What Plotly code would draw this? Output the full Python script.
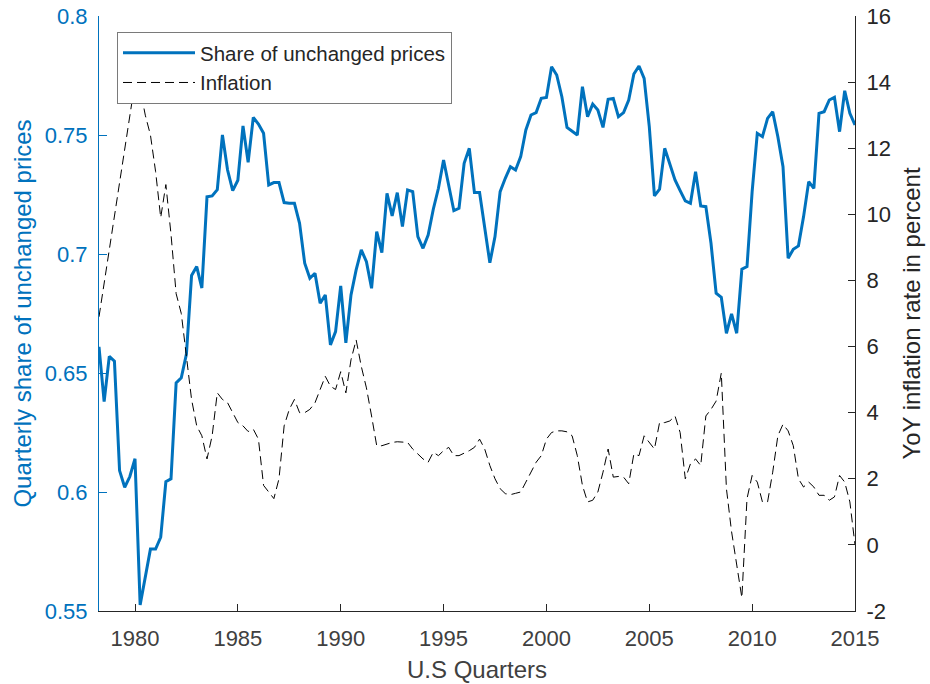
import plotly.graph_objects as go

# Quarterly observations, 1978Q2 .. 2015Q1
years = [1978.25 + 0.25 * k for k in range(148)]

share_unchanged = [
    0.661, 0.638, 0.657, 0.655, 0.609, 0.602, 0.6065, 0.614, 0.5525, 0.564,
    0.576, 0.576, 0.581, 0.6043, 0.6055, 0.6458, 0.648, 0.658, 0.691, 0.6947,
    0.6857, 0.724, 0.7244, 0.727, 0.750, 0.7353, 0.7266, 0.731, 0.7538, 0.7385,
    0.7574, 0.7546, 0.7507, 0.729, 0.730, 0.730, 0.7216, 0.7213, 0.7213, 0.7129,
    0.6961, 0.6898, 0.6919, 0.6793, 0.6828, 0.6618, 0.6674, 0.6866, 0.6627, 0.6828,
    0.6933, 0.7017, 0.6968, 0.6856, 0.7094, 0.7006, 0.7255, 0.716, 0.7258, 0.7115,
    0.7269, 0.7262, 0.7073, 0.7024, 0.708, 0.7188, 0.7276, 0.7395, 0.729, 0.7182,
    0.7192, 0.7381, 0.7444, 0.7258, 0.7258, 0.7108, 0.6963, 0.7073, 0.7262, 0.7318,
    0.7367, 0.7353, 0.7409, 0.7521, 0.7584, 0.7594, 0.7654, 0.7658, 0.7787, 0.7752,
    0.7661, 0.7532, 0.7514, 0.750, 0.7703, 0.7577, 0.763, 0.7605, 0.7532, 0.765,
    0.7654, 0.7577, 0.7594, 0.7647, 0.7756, 0.779, 0.7738, 0.7535, 0.7244, 0.7272,
    0.7444, 0.7381, 0.7311, 0.7266, 0.7223, 0.7213, 0.7346, 0.7202, 0.7199, 0.7045,
    0.6835, 0.6818, 0.6667, 0.6748, 0.6667, 0.6936, 0.6947, 0.7262, 0.7507, 0.7493,
    0.757, 0.7598, 0.7493, 0.7367, 0.6982, 0.702, 0.7034, 0.7157, 0.7304, 0.7276,
    0.7591, 0.7598, 0.7647, 0.7658, 0.7514, 0.7686, 0.7591, 0.7542,
]

inflation = [
    6.9, 7.9, 8.9, 9.9, 10.9, 11.9, 12.9, 14.0, 13.8, 13.0,
    12.4, 11.3, 9.9, 10.9, 9.4, 7.6, 7.0, 5.7, 4.4, 3.6,
    3.3, 2.6, 3.3, 4.6, 4.4, 4.3, 4.0, 3.7, 3.6, 3.43,
    3.5, 3.2, 1.8, 1.6, 1.4, 2.0, 3.6, 4.1, 4.4, 4.0,
    4.0, 4.1, 4.3, 4.7, 5.1, 4.8, 4.7, 5.24, 4.6, 5.6,
    6.2, 5.4, 4.75, 3.9, 3.0, 3.0, 3.05, 3.1, 3.12, 3.12,
    3.1, 2.9, 2.75, 2.6, 2.5, 2.8, 2.7, 2.85, 2.95, 2.7,
    2.7, 2.77, 2.85, 2.95, 3.2, 2.9, 2.4, 2.0, 1.7, 1.55,
    1.52, 1.56, 1.6, 1.9, 2.2, 2.5, 2.7, 3.2, 3.4, 3.45,
    3.45, 3.42, 3.3, 2.7, 1.8, 1.3, 1.35, 1.6, 2.2, 2.9,
    2.05, 2.07, 2.05, 1.85, 2.75, 2.7, 3.3, 3.1, 2.9, 3.7,
    3.7, 3.75, 3.9, 3.4, 2.0, 2.45, 2.6, 2.4, 3.9, 4.1,
    4.35, 5.2, 1.7, 0.4, -0.6, -1.6, 1.4, 2.1, 1.9, 1.3,
    1.3, 2.2, 3.3, 3.65, 3.45, 3.0, 2.0, 1.75, 1.9, 1.75,
    1.5, 1.5, 1.35, 1.45, 2.1, 1.9, 1.3, 0.0,
]

share_ticks = [0.55, 0.6, 0.65, 0.7, 0.75, 0.8]
share_tick_labels = ["0.55", "0.6", "0.65", "0.7", "0.75", "0.8"]
inflation_ticks = [-2, 0, 2, 4, 6, 8, 10, 12, 14, 16]
inflation_tick_labels = ["-2", "0", "2", "4", "6", "8", "10", "12", "14", "16"]
year_ticks = [1980, 1985, 1990, 1995, 2000, 2005, 2010, 2015]

BLUE = "#0072BD"
DARK = "#262626"
TICK_TEXT = "#404040"
FONT = "Arial, Liberation Sans, Helvetica, sans-serif"

fig = go.Figure()
fig.add_trace(go.Scatter(
    x=years, y=share_unchanged, name="Share of unchanged prices",
    mode="lines", line=dict(color=BLUE, width=3), yaxis="y",
))
fig.add_trace(go.Scatter(
    x=years, y=inflation, name="Inflation",
    mode="lines", line=dict(color="black", width=1, dash="9px,5px"), yaxis="y2",
))

fig.update_layout(
    width=930, height=684,
    margin=dict(l=99, r=75, t=16, b=73),
    paper_bgcolor="white", plot_bgcolor="white",
    font=dict(family=FONT, size=22, color=DARK),
    showlegend=True,
    xaxis=dict(
        range=[1978.25, 2015], tickvals=year_ticks,
        ticks="inside", ticklen=7, tickwidth=1, tickcolor=DARK,
        showline=True, linecolor=DARK, linewidth=1,
        showgrid=False, zeroline=False, automargin=False,
        tickfont=dict(size=22, color=TICK_TEXT), ticklabelstandoff=8,
        title=dict(text="U.S Quarters", font=dict(size=24, color=TICK_TEXT), standoff=10),
    ),
    yaxis=dict(
        range=[0.55, 0.8], tickvals=share_ticks, ticktext=share_tick_labels,
        ticks="inside", ticklen=8, tickwidth=1, tickcolor=BLUE,
        showline=True, linecolor=BLUE, linewidth=1,
        showgrid=False, zeroline=False, automargin=False,
        tickfont=dict(size=22, color=BLUE), ticklabelstandoff=6,
        title=dict(text="Quarterly share of unchanged prices",
                   font=dict(size=24, color=BLUE), standoff=6),
    ),
    yaxis2=dict(
        overlaying="y", side="right",
        range=[-2, 16], tickvals=inflation_ticks, ticktext=inflation_tick_labels,
        ticks="inside", ticklen=7, tickwidth=1, tickcolor=DARK,
        showline=True, linecolor=DARK, linewidth=1,
        showgrid=False, zeroline=False, automargin=False,
        tickfont=dict(size=22, color=DARK), ticklabelstandoff=6,
        title=dict(text="YoY inflation rate in percent",
                   font=dict(size=24, color=DARK), standoff=13),
    ),
    legend=dict(
        x=(117 - 99) / 756, y=1 - (32 - 16) / 595,
        xanchor="left", yanchor="top",
        bgcolor="white", bordercolor="#7a7a7a", borderwidth=1,
        font=dict(size=20.5, color=DARK),
        itemwidth=72, tracegroupgap=0,
    ),
)

fig.write_html("out.html")
